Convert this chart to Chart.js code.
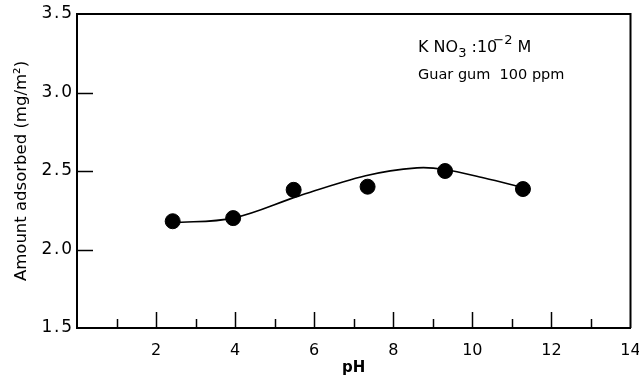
<!DOCTYPE html>
<html><head><meta charset="utf-8">
<script src="https://cdn.jsdelivr.net/npm/chart.js@4/dist/chart.umd.min.js"></script>
<style>html,body{margin:0;padding:0;background:#fff}#wrap{width:639px;height:377px}</style>
</head><body><div id="wrap"><canvas id="c" width="639" height="377"></canvas></div>
<script>
const phValues = [2.42, 3.95, 5.48, 7.35, 9.31, 11.28];
const adsorbed = [2.18, 2.20, 2.38, 2.40, 2.50, 2.385];
const curvePh = [2.42, 3.95, 5.6, 7.3, 8.6, 9.3, 10.3, 11.28];
const curveAds = [2.17, 2.20, 2.34, 2.47, 2.52, 2.51, 2.455, 2.395];
const xTicks = [2, 4, 6, 8, 10, 12, 14];
const yTicks = [1.5, 2.0, 2.5, 3.0, 3.5];
const FONT = "'DejaVu Sans', sans-serif";

const innerTicks = {
  id: 'innerTicks',
  afterDraw(chart) {
    const ctx = chart.ctx, xs = chart.scales.x, ys = chart.scales.y, a = chart.chartArea;
    ctx.save();
    ctx.strokeStyle = '#000'; ctx.lineWidth = 1.5;
    for (let v = 1; v <= 13; v++) {
      const px = Math.round(xs.getPixelForValue(v)) + 0.5;
      const len = (v % 2 === 0) ? 16 : 9;
      ctx.beginPath(); ctx.moveTo(px, a.bottom); ctx.lineTo(px, a.bottom - len); ctx.stroke();
    }
    [2.0, 2.5, 3.0].forEach(v => {
      const py = Math.round(ys.getPixelForValue(v)) + 0.5;
      ctx.beginPath(); ctx.moveTo(a.left, py); ctx.lineTo(a.left + 16, py); ctx.stroke();
    });
    // annotation text
    ctx.fillStyle = '#000';
    ctx.textBaseline = 'alphabetic';
    let x = 418, y = 52;
    const put = (t, f, dy) => { ctx.font = f; ctx.fillText(t, x, y + dy); x += ctx.measureText(t).width; };
    put('K NO', '16px ' + FONT, 0);
    put('3', '13px ' + FONT, 5);
    put(' :10', '16px ' + FONT, 0);
    x -= 4;
    put('−2', '13px ' + FONT, -8);
    put(' M', '16px ' + FONT, 0);
    ctx.font = '14.5px ' + FONT;
    ctx.fillText('Guar gum  100 ppm', 418, 79);
    ctx.restore();
  }
};

new Chart(document.getElementById('c'), {
  type: 'scatter',
  data: {
    datasets: [
      {
        data: curvePh.map((v, i) => ({x: v, y: curveAds[i]})),
        showLine: true, borderColor: '#000', borderWidth: 1.6,
        pointRadius: 0, tension: 0.35, fill: false
      },
      {
        data: phValues.map((v, i) => ({x: v, y: adsorbed[i]})),
        backgroundColor: '#000', borderColor: '#000', pointRadius: 7.5, pointHoverRadius: 7.5
      }
    ]
  },
  options: {
    responsive: false, animation: false, devicePixelRatio: 1,
    layout: {padding: {top: 14, right: 2, left: 0, bottom: 0}},
    plugins: {legend: {display: false}, tooltip: {enabled: false}},
    scales: {
      x: {
        type: 'linear', min: 0, max: 14,
        afterBuildTicks: s => { s.ticks = xTicks.map(v => ({value: v})); },
        afterFit: s => { s.height = 49; s.paddingLeft = 0; s.paddingRight = 0; },
        grid: {display: false, drawTicks: false},
        border: {display: true, color: '#000', width: 2},
        ticks: {color: '#000', font: {family: FONT, size: 16}, padding: 13},
        title: {display: true, text: 'pH', color: '#000', font: {family: FONT, size: 15, weight: 'bold'}, padding: {top: 0, bottom: 0}}
      },
      y: {
        type: 'linear', min: 1.5, max: 3.5,
        afterBuildTicks: s => { s.ticks = yTicks.map(v => ({value: v})); },
        afterFit: s => { s.width = 77; s.paddingTop = 0; s.paddingBottom = 0; },
        grid: {display: false, drawTicks: false},
        border: {display: true, color: '#000', width: 2},
        ticks: {color: '#000', font: {family: FONT, size: 17}, padding: 5, callback: v => v.toFixed(1).split('').join('\u200A')},
        title: {display: true, text: 'Amount adsorbed (mg/m²)', color: '#000', font: {family: FONT, size: 16.5}, padding: {top: 12, bottom: 0}}
      }
    }
  },
  plugins: [innerTicks, {
    id: 'frame',
    afterDraw(chart) {
      const a = chart.chartArea, ctx = chart.ctx;
      ctx.save(); ctx.strokeStyle = '#000'; ctx.lineWidth = 2;
      ctx.beginPath(); ctx.moveTo(a.left, a.top); ctx.lineTo(a.right, a.top); ctx.lineTo(a.right, a.bottom); ctx.stroke();
      ctx.restore();
    }
  }]
});
</script></body></html>
